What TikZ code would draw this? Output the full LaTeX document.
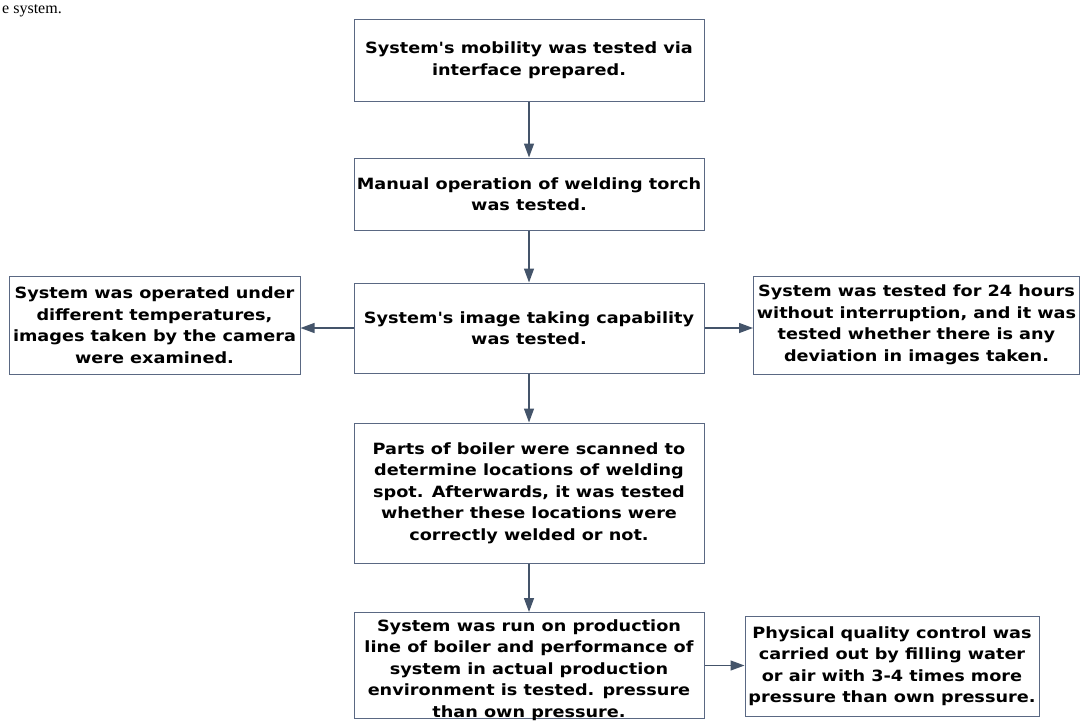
\documentclass[tikz,border=0pt]{standalone}
\usepackage{fontspec}
\setmainfont{Liberation Serif}
\newfontfamily\boxfont[FakeStretch=1.14]{DejaVu Sans}
\usetikzlibrary{arrows.meta}
\definecolor{arrowcol}{HTML}{44546A}
\definecolor{boxcol}{HTML}{5A6883}
\tikzset{
  stepbox/.style={draw=boxcol, line width=1pt, rectangle, inner sep=0pt, align=center,
    font=\boxfont\bfseries\fontsize{15.5}{21.5}\selectfont, text=black},
  steptext/.style={inner sep=0pt, align=center,
    font=\boxfont\bfseries\fontsize{15.5}{21.5}\selectfont, text=black},
  flow/.style={draw=arrowcol, line width=1.3pt, -{Triangle[length=14pt,width=10pt]}}
}
\begin{document}
\begin{tikzpicture}[x=1pt,y=-1pt]
\useasboundingbox (0,0) rectangle (1081,720);
\node[anchor=base west, font=\fontsize{16}{18}\selectfont, inner sep=0pt] (frag) at (2,13) {e system.};
\node[stepbox, minimum width=350pt, minimum height=82pt] (b1) at (529,60)
  {System's mobility was tested via\\interface prepared.};
\node[stepbox, minimum width=350pt, minimum height=72pt] (b2) at (529,194)
  {Manual operation of welding torch\\was tested.};
\node[stepbox, minimum width=350pt, minimum height=90pt] (b3) at (529,328)
  {System's image taking capability\\was tested.};
\node[stepbox, minimum width=291pt, minimum height=98pt] (bl) at (154.5,325)
  {System was operated under\\different temperatures,\\images taken by the camera\\were examined.};
\node[stepbox, minimum width=326pt, minimum height=98pt] (br) at (916.5,325)
  {System was tested for 24 hours\\without interruption, and it was\\tested whether there is any\\deviation in images taken.};
\node[stepbox, minimum width=350pt, minimum height=140pt] (b4) at (529,493)
  {Parts of boiler were scanned to\\determine locations of welding\\spot. Afterwards, it was tested\\whether these locations were\\correctly welded or not.};
\node[stepbox, minimum width=350pt, minimum height=106pt] (b5) at (529,665.5) {};
\node[steptext] (b5t) at (529,670)
  {System was run on production\\line of boiler and performance of\\system in actual production\\environment is tested. pressure\\than own pressure.};
\node[stepbox, minimum width=294pt, minimum height=100pt] (bq) at (892,666)
  {Physical quality control was\\carried out by filling water\\or air with 3-4 times more\\pressure than own pressure.};
\draw[flow] (b1.south) -- (b2.north);
\draw[flow] (b2.south) -- (b3.north);
\draw[flow] (b3.west) -- (b3.west -| bl.east);
\draw[flow] (b3.east) -- (b3.east -| br.west);
\draw[flow] (b3.south) -- (b4.north);
\draw[flow] (b4.south) -- (b5.north);
\draw[flow] (b5.east) -- (b5.east -| bq.west);
\end{tikzpicture}
\end{document}
